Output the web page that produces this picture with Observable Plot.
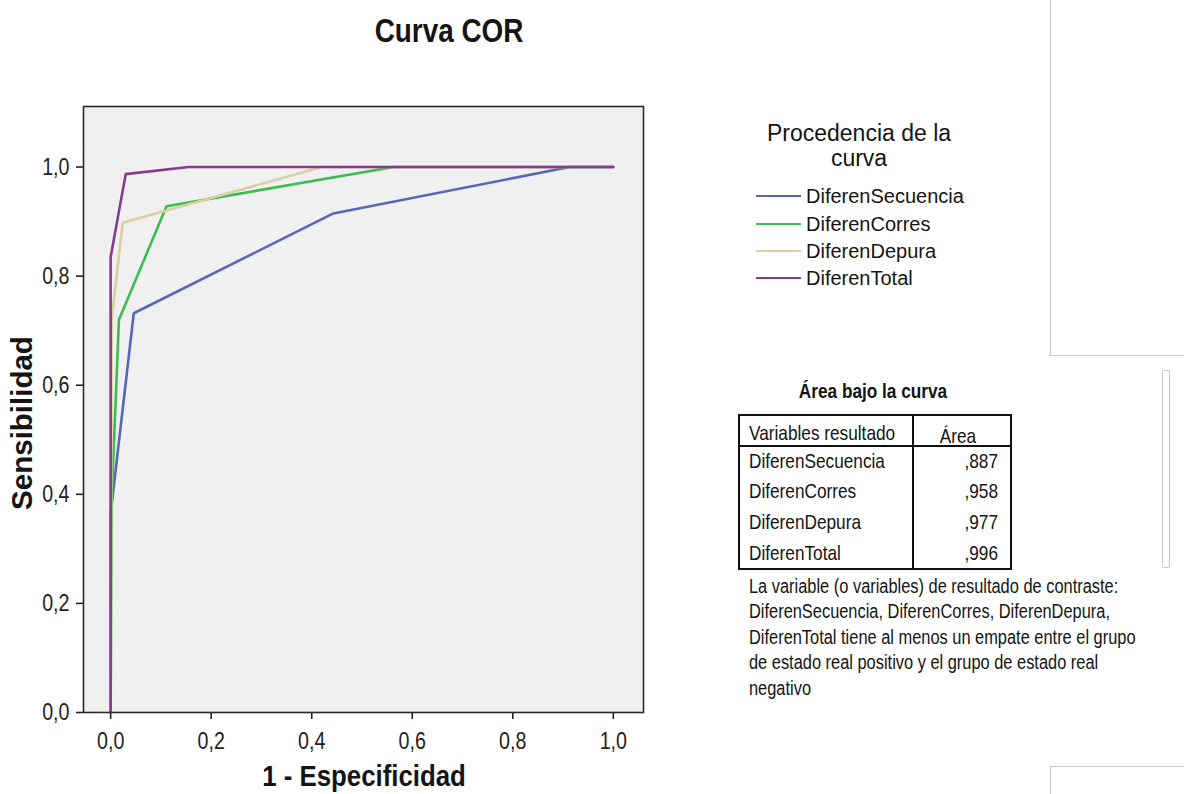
<!DOCTYPE html>
<html><head><meta charset="utf-8">
<script src="https://cdn.jsdelivr.net/npm/d3@7"></script>
<script src="https://cdn.jsdelivr.net/npm/@observablehq/plot@0.6"></script>
<style>
body{margin:0;background:#fff;}
#wrap{position:relative;width:1184px;height:794px;overflow:hidden;font-family:"Liberation Sans",Arial,sans-serif;color:#141414;}
#wrap svg{position:absolute;left:0;top:0;}
.abs{position:absolute;white-space:nowrap;line-height:1;}
.c{transform:translate(-50%,-50%);}
.l{transform:translateY(-50%);}
.r{transform:translate(-100%,-50%);}
.nc{transform-origin:50% 50%;transform:translate(-50%,-50%) scaleX(0.82);}
.nl{transform-origin:0% 50%;transform:translateY(-50%) scaleX(0.82);}
.nr{transform-origin:100% 50%;transform:translate(-100%,-50%) scaleX(0.82);}
.box{position:absolute;box-sizing:border-box;}
</style></head><body><div id="wrap"></div>
<script>
// ---- data ----
const seriesNames = ["DiferenSecuencia", "DiferenCorres", "DiferenDepura", "DiferenTotal"];
const seriesColors = ["#5667ba", "#3dbd4f", "#d8d0a0", "#8a3a8e"];
const fprSecuencia = [0, 0, 0.046, 0.443, 0.913, 1];
const tprSecuencia = [0, 0.365, 0.732, 0.915, 1, 1];
const fprCorres = [0, 0.002, 0.0165, 0.111, 0.563, 1];
const tprCorres = [0, 0.39, 0.72, 0.928, 1, 1];
const fprDepura = [0, 0.002, 0.024, 0.42, 1];
const tprDepura = [0, 0.72, 0.898, 1, 1];
const fprTotal = [0, 0, 0.03, 0.155, 1];
const tprTotal = [0, 0.835, 0.987, 1, 1];
const xTicks = [0, 0.2, 0.4, 0.6, 0.8, 1.0];
const yTicks = [0, 0.2, 0.4, 0.6, 0.8, 1.0];
const chartTitle = "Curva COR";
const xLabel = "1 - Especificidad";
const yLabel = "Sensibilidad";
const legendTitle = ["Procedencia de la", "curva"];
const tableTitle = "Área bajo la curva";
const tableHeader = ["Variables resultado", "Área"];
const aucValues = [",887", ",958", ",977", ",996"];
const footnoteLines = [
  "La variable (o variables) de resultado de contraste:",
  "DiferenSecuencia, DiferenCorres, DiferenDepura,",
  "DiferenTotal tiene al menos un empate entre el grupo",
  "de estado real positivo y el grupo de estado real",
  "negativo"
];

const fprs = [fprSecuencia, fprCorres, fprDepura, fprTotal];
const tprs = [tprSecuencia, tprCorres, tprDepura, tprTotal];
const rows = [];
seriesNames.forEach((s, i) => fprs[i].forEach((f, j) => rows.push({series: s, fpr: f, tpr: tprs[i][j]})));

const fmt = d => d.toFixed(1).replace(".", ",");

const wrap = document.getElementById("wrap");
const chart = Plot.plot({
  width: 680, height: 794,
  marginLeft: 83, marginRight: 37, marginTop: 106, marginBottom: 82,
  x: {domain: [-0.054, 1.06]},
  y: {domain: [0, 1.111]},
  color: {domain: seriesNames, range: seriesColors},
  style: {fontFamily: '"Liberation Sans",Arial,sans-serif', fontSize: "24px", color: "#222", background: "transparent", overflow: "visible"},
  marks: [
    Plot.frame({fill: "#f0f0f0"}),
    Plot.axisX({ticks: xTicks, tickFormat: fmt, tickSize: 7, tickPadding: 12, label: null, fontSize: 24, strokeWidth: 1.6}),
    Plot.axisY({ticks: yTicks, tickFormat: fmt, tickSize: 7, tickPadding: 7, label: null, fontSize: 24, strokeWidth: 1.6}),
    Plot.line(rows, {x: "fpr", y: "tpr", z: "series", stroke: "series", strokeWidth: 2.6}),
    Plot.frame({stroke: "#2a2a2a", strokeWidth: 1.6})
  ]
});
wrap.appendChild(chart);
// condense tick labels horizontally (the reference uses a narrow face)
const SX = 0.82;
chart.querySelectorAll('g[aria-label$="tick label"] text').forEach(t => {
  const tr = t.getAttribute("transform") || "";
  t.setAttribute("transform", `${tr} scale(${SX},1)`);
  const x = t.getAttribute("x");
  if (x !== null && !isNaN(+x)) t.setAttribute("x", +x / SX);
});

function add(text, cls, left, top, style = "") {
  const d = document.createElement("div");
  d.className = "abs " + cls;
  d.style.cssText = `left:${left}px;top:${top}px;${style}`;
  d.textContent = text;
  wrap.appendChild(d);
  return d;
}
function box(left, top, w, h, css) {
  const d = document.createElement("div");
  d.className = "box";
  d.style.cssText = `left:${left}px;top:${top}px;width:${w}px;height:${h}px;${css}`;
  wrap.appendChild(d);
}

// titles
add(chartTitle, "nc", 449, 30, "font-size:34px;font-weight:bold;");
add(xLabel, "c", 364, 776, "font-size:30px;font-weight:bold;transform-origin:50% 50%;transform:translate(-50%,-50%) scaleX(0.86);");
add(yLabel, "", 22, 423, "font-size:29.5px;font-weight:bold;transform:translate(-50%,-50%) rotate(-90deg);");

// legend
add(legendTitle[0], "c", 859, 133, "font-size:23px;");
add(legendTitle[1], "c", 859, 158, "font-size:23px;");
const legY = [196, 223.5, 251, 278];
seriesNames.forEach((s, i) => {
  box(756, legY[i] - 1, 45, 2.4, `background:${seriesColors[i]};`);
  add(s, "l", 806, legY[i], "font-size:20px;");
});

// right-side window decorations
box(1050, 0, 140, 356, "border-left:1.5px solid #c8c8c8;border-bottom:1.5px solid #c8c8c8;");
box(1162, 370, 8, 198, "border:1.5px solid #c8c8c8;border-radius:1px;");
box(1050, 766, 140, 40, "border-left:1.5px solid #c8c8c8;border-top:1.5px solid #c8c8c8;");

// table
add(tableTitle, "nc", 873, 390, "font-size:21px;font-weight:bold;");
box(738, 414, 274, 156, "border:2px solid #111;");
box(738, 445, 274, 2.2, "background:#111;");
box(912, 414, 2, 156, "background:#111;");
add(tableHeader[0], "nl", 749, 432, "font-size:21px;");
add(tableHeader[1], "nc", 958, 435, "font-size:21px;");
const rowY = [459.6, 490.4, 521, 552];
seriesNames.forEach((s, i) => {
  add(s, "nl", 749, rowY[i], "font-size:21px;");
  add(aucValues[i], "nr", 998, rowY[i], "font-size:21px;");
});
footnoteLines.forEach((t, i) => add(t, "nl", 749, 585.5 + i * 25.5, "font-size:20px;"));
</script></body></html>
